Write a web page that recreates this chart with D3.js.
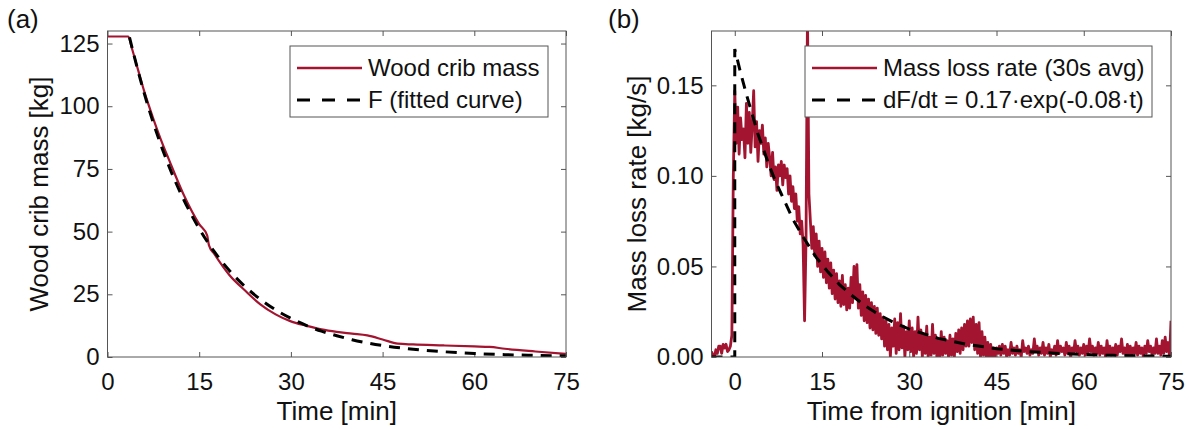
<!DOCTYPE html>
<html><head><meta charset="utf-8">
<script src="https://cdn.jsdelivr.net/npm/d3@7"></script>
<style>
body{margin:0;background:#fff;}
svg{display:block;font-family:"Liberation Sans",Arial,sans-serif;}
</style></head>
<body>
<svg id="chart" width="1189" height="429"></svg>
<script>
// ---------- Data ----------
// Panel (a): wood crib mass [kg] vs time [min]
const massTime = [0, 3.4, 4, 5, 6, 7.5, 9, 10, 12.5, 15, 16.3, 16.6, 17.5, 20, 22.5, 25, 27.5, 30, 32.5, 35, 37.5, 40, 42.5, 45, 47.5, 50, 55, 60, 62.5, 65, 70, 75];
const massVals = [127.8, 127.8, 123, 114.5, 106, 95, 85, 79, 64.5, 53, 48.5, 44.5, 41, 32.5, 26.5, 21, 17, 14.2, 12.5, 11, 10, 9.3, 8.6, 7, 5.3, 5, 4.6, 4.2, 4, 3.3, 2.2, 1.2];
// fitted curve F [kg]
const fitTime = [3.6, 5, 6, 7.5, 9, 10, 12.5, 15, 17.5, 20, 22.5, 25, 27.5, 30, 32.5, 35, 37.5, 40, 45, 50, 55, 60, 65, 70, 75];
const fitVals = [127.5, 114.0, 105.2, 93.3, 82.8, 76.4, 62.6, 51.2, 41.9, 34.3, 28.1, 23.0, 18.8, 15.4, 12.6, 10.3, 8.5, 6.9, 4.6, 3.1, 2.1, 1.4, 0.94, 0.63, 0.42];
const massTicksX = [0, 15, 30, 45, 60, 75];
const massTicksY = [0, 25, 50, 75, 100, 125];

// Panel (b): mass loss rate [kg/s] (30 s avg), sampled every 0.25 min from -4 to 75 min
const rateStart = -4, rateStep = 0.25;
const rateVals = [
 0.003,0.001,0.000,0.004,  0.002,0.006,0.006,0.002,  0.007,0.005,0.007,0.003,  0.004,0.006,0.012,0.100,
 0.147,0.118,0.138,0.112,  0.132,0.120,0.126,0.110,  0.140,0.118,0.135,0.113,  0.128,0.147,0.116,0.130,
 0.108,0.125,0.118,0.128,  0.112,0.121,0.105,0.118,  0.110,0.100,0.113,0.098,  0.105,0.092,0.106,0.100,
 0.108,0.095,0.106,0.099,  0.104,0.090,0.100,0.086,  0.094,0.082,0.090,0.075,  0.083,0.068,0.075,0.062,
 0.020,0.064,0.190,0.090,  0.075,0.060,0.072,0.056,  0.068,0.050,0.064,0.047,  0.060,0.044,0.058,0.041,
 0.054,0.038,0.052,0.035,  0.048,0.032,0.046,0.030,  0.042,0.028,0.045,0.029,  0.040,0.026,0.038,0.027,
 0.044,0.030,0.050,0.033,  0.051,0.027,0.040,0.023,  0.036,0.020,0.034,0.019,  0.032,0.016,0.030,0.015,
 0.028,0.013,0.027,0.012,  0.024,0.010,0.022,0.006,  0.020,0.004,0.018,0.000,  0.016,0.006,0.021,0.002,
 0.019,0.004,0.024,0.005,  0.017,0.000,0.014,0.004,  0.020,0.003,0.016,0.000,  0.014,0.002,0.022,0.004,
 0.015,0.000,0.012,0.002,  0.017,0.000,0.011,0.001,  0.018,0.002,0.012,0.000,  0.010,0.000,0.014,0.001,
 0.011,0.002,0.009,0.000,  0.012,0.001,0.010,0.000,  0.013,0.003,0.015,0.002,  0.016,0.004,0.018,0.006,
 0.020,0.006,0.021,0.008,  0.022,0.004,0.018,0.002,  0.019,0.000,0.014,0.001,  0.011,0.000,0.008,0.000,
 0.007,0.000,0.005,0.000,  0.005,0.002,0.006,0.001,  0.007,0.002,0.006,0.000,  0.004,0.001,0.008,0.002,
 0.005,0.001,0.006,0.002,  0.004,0.000,0.009,0.003,  0.005,0.002,0.006,0.001,  0.004,0.002,0.010,0.003,
 0.006,0.001,0.005,0.002,  0.008,0.001,0.005,0.002,  0.007,0.000,0.004,0.002,  0.006,0.001,0.009,0.002,
 0.006,0.003,0.005,0.001,  0.008,0.002,0.006,0.000,  0.005,0.002,0.009,0.003,  0.006,0.001,0.005,0.002,
 0.007,0.001,0.006,0.002,  0.010,0.003,0.006,0.001,  0.005,0.002,0.008,0.001,  0.006,0.002,0.005,0.000,
 0.009,0.002,0.006,0.001,  0.005,0.002,0.007,0.001,  0.006,0.003,0.010,0.002,  0.005,0.001,0.007,0.002,
 0.006,0.001,0.005,0.002,  0.008,0.001,0.006,0.002,  0.005,0.000,0.006,0.002,  0.009,0.003,0.006,0.001,
 0.005,0.002,0.010,0.002,  0.006,0.001,0.009,0.002,  0.011,0.003,0.008,0.000,  0.020
];
// fitted dF/dt = 0.17*exp(-0.08 t)
const fitRateTime = [-4, 0, 0, 1, 2, 3, 4, 5, 6, 7, 8, 9, 10, 12, 14, 16, 18, 20, 22.5, 25, 27.5, 30, 35, 40, 45, 50, 55, 60, 65, 70, 75];
const fitRateVals = [0, 0, 0.170, 0.157, 0.145, 0.134, 0.123, 0.114, 0.105, 0.097, 0.090, 0.083, 0.076, 0.065, 0.055, 0.047, 0.040, 0.0343, 0.0281, 0.0230, 0.0188, 0.0154, 0.0103, 0.0069, 0.0046, 0.0031, 0.0021, 0.0014, 0.0009, 0.0006, 0.0004];
const rateTicksX = [0, 15, 30, 45, 60, 75];
const rateTicksY = [0, 0.05, 0.10, 0.15];

// ---------- Drawing ----------
const RED = "#A2142F", AX = "#555", TXT = "#111";
const svg = d3.select("#chart");
svg.append("rect").attr("width",1189).attr("height",429).attr("fill","#fff");

function panel(o){
  const g = svg.append("g");
  const x = d3.scaleLinear().domain(o.xDomain).range([o.left, o.right]);
  const y = d3.scaleLinear().domain(o.yDomain).range([o.bottom, o.top]);
  const clipId = "clip" + o.id;
  svg.append("clipPath").attr("id", clipId).append("rect")
    .attr("x", o.left).attr("y", o.top).attr("width", o.right-o.left).attr("height", o.bottom-o.top);

  const axStyle = sel => {
    sel.select(".domain").remove();
    sel.selectAll(".tick line").attr("stroke", AX);
    sel.selectAll("text").attr("fill",TXT).attr("font-size", 24).attr("font-family", null);
  };
  g.append("g").attr("transform",`translate(0,${o.bottom})`)
    .call(d3.axisBottom(x).tickValues(o.xTicks).tickSize(-5).tickPadding(16).tickFormat(o.xFmt)).call(axStyle);
  g.append("g").attr("transform",`translate(0,${o.top})`)
    .call(d3.axisTop(x).tickValues(o.xTicks).tickSize(-5).tickFormat("")).call(axStyle);
  g.append("g").attr("transform",`translate(${o.left},0)`)
    .call(d3.axisLeft(y).tickValues(o.yTicks).tickSize(-5).tickPadding(8).tickFormat(o.yFmt)).call(axStyle);
  g.append("g").attr("transform",`translate(${o.right},0)`)
    .call(d3.axisRight(y).tickValues(o.yTicks).tickSize(-5).tickFormat("")).call(axStyle);

  const plot = g.append("g").attr("clip-path", `url(#${clipId})`);
  plot.append("path").datum(o.main)
    .attr("fill","none").attr("stroke",RED).attr("stroke-width",o.mainWidth).attr("stroke-linejoin","round")
    .attr("d", d3.line().x(d=>x(d[0])).y(d=>y(d[1])).curve(o.mainCurve));
  plot.append("path").datum(o.fit)
    .attr("fill","none").attr("stroke","#000").attr("stroke-width",3).attr("stroke-dasharray","11,8")
    .attr("d", d3.line().x(d=>x(d[0])).y(d=>y(d[1])).curve(o.fitCurve));

  g.append("rect").attr("x",o.left).attr("y",o.top).attr("width",o.right-o.left).attr("height",o.bottom-o.top)
    .attr("fill","none").attr("stroke",AX).attr("stroke-width",1);

  // axis titles
  g.append("text").attr("x",(o.left+o.right)/2).attr("y",420).attr("text-anchor","middle")
    .attr("font-size",26).attr("fill",TXT).text(o.xLabel);
  g.append("text").attr("transform",`translate(${o.yLabelX},${(o.top+o.bottom)/2}) rotate(-90)`)
    .attr("text-anchor","middle").attr("font-size",26).attr("fill",TXT).text(o.yLabel);
  // panel letter
  g.append("text").attr("x",o.letterX).attr("y",28).attr("font-size",26).attr("fill",TXT).text(o.letter);

  // legend
  const L = o.legend;
  g.append("rect").attr("x",L.x).attr("y",L.y).attr("width",L.w).attr("height",L.h)
    .attr("fill","#fff").attr("stroke",AX).attr("stroke-width",1);
  const sx0 = L.x+7, sx1 = L.x+72;
  g.append("line").attr("x1",sx0).attr("x2",sx1).attr("y1",L.y+22).attr("y2",L.y+22)
    .attr("stroke",RED).attr("stroke-width",2.5);
  g.append("line").attr("x1",sx0).attr("x2",sx1).attr("y1",L.y+54).attr("y2",L.y+54)
    .attr("stroke","#000").attr("stroke-width",3).attr("stroke-dasharray","13,12");
  g.append("text").attr("x",sx1+6).attr("y",L.y+22).attr("dy","0.35em").attr("font-size",24).attr("fill",TXT).text(L.t1);
  g.append("text").attr("x",sx1+6).attr("y",L.y+54).attr("dy","0.35em").attr("font-size",24).attr("fill",TXT).text(L.t2);
}

panel({
  id:"a", left:107.5, right:566, top:31, bottom:357,
  xDomain:[0,75], yDomain:[0,130], xTicks:massTicksX, yTicks:massTicksY,
  xFmt:d3.format("d"), yFmt:d3.format("d"),
  main: massTime.map((t,i)=>[t, massVals[i]]), mainWidth:2.2, mainCurve:d3.curveMonotoneX,
  fit: fitTime.map((t,i)=>[t, fitVals[i]]), fitCurve:d3.curveMonotoneX,
  xLabel:"Time [min]", yLabel:"Wood crib mass [kg]", yLabelX:48,
  letter:"(a)", letterX:7,
  legend:{x:290, y:46, w:258, h:71, t1:"Wood crib mass", t2:"F (fitted curve)"}
});

const rateData = rateVals.map((v,i)=>[rateStart + i*rateStep, v]);
panel({
  id:"b", left:711.5, right:1171, top:31, bottom:357,
  xDomain:[-4,75], yDomain:[0,0.18], xTicks:rateTicksX, yTicks:rateTicksY,
  xFmt:d3.format("d"), yFmt:d3.format(".2f"),
  main: rateData, mainWidth:2.8, mainCurve:d3.curveLinear,
  fit: fitRateTime.map((t,i)=>[t, fitRateVals[i]]), fitCurve:d3.curveLinear,
  xLabel:"Time from ignition [min]", yLabel:"Mass loss rate [kg/s]", yLabelX:646,
  letter:"(b)", letterX:608,
  legend:{x:805, y:46, w:347, h:71, t1:"Mass loss rate (30s avg)", t2:"dF/dt = 0.17\u00B7exp(-0.08\u00B7t)"}
});
</script>
</body></html>
